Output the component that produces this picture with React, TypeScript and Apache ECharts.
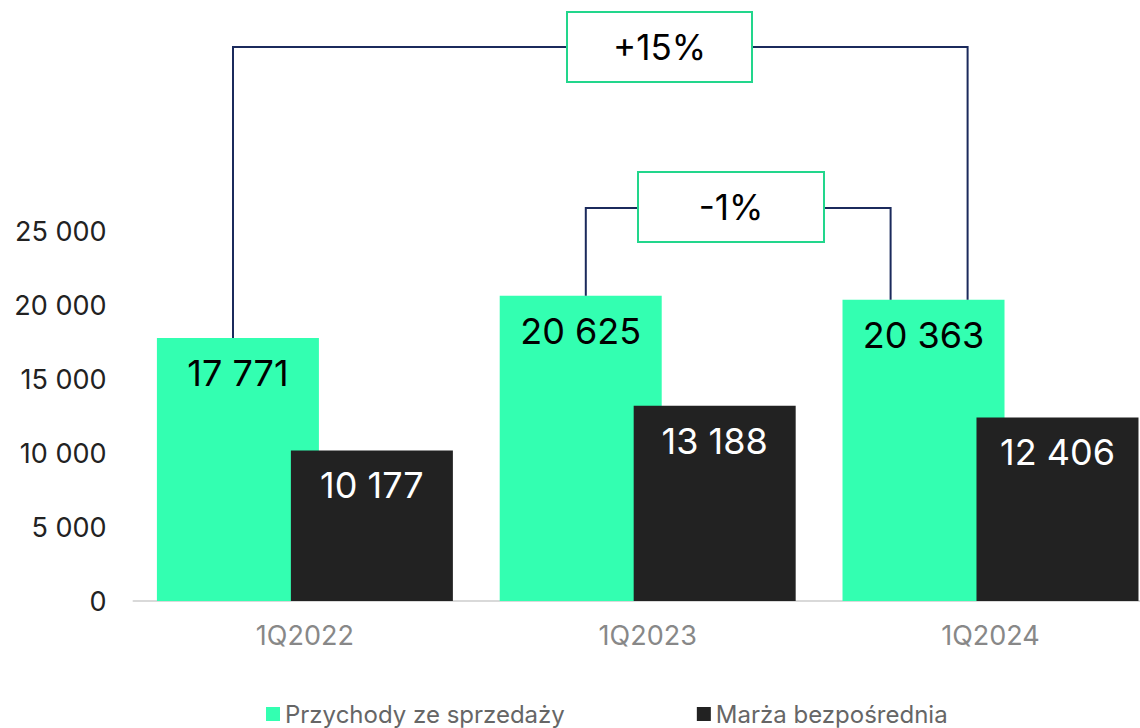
import React, { useEffect, useRef } from "react";
import * as echarts from "echarts";

const categories = ["1Q2022", "1Q2023", "1Q2024"];
const revenue = [17771, 20625, 20363];
const margin = [10177, 13188, 12406];
const seriesNames = ["Przychody ze sprzedaży", "Marża bezpośrednia"];
const changeLabels = ["+15%", "-1%"];
const changeFrom = [0, 1];
const changeTo = [2, 2];

const GREEN = "#33FFB1";
const DARK = "#222222";
const NAVY = "#1B2A5C";
const BOX = "#22D68C";
const FONT = "Inter, 'Noto Sans', sans-serif";

const fmt = (v: number) => String(v).replace(/\B(?=(\d{3})+(?!\d))/g, " ");

export default function App() {
  const ref = useRef<HTMLDivElement>(null);
  useEffect(() => {
    const chart = echarts.init(ref.current!, undefined, { renderer: "svg" });
    chart.setOption({
      animation: false,
      textStyle: { fontFamily: FONT },
      grid: { left: 133.5, width: 1028.4, top: 231, height: 370, outerBoundsMode: "none" },
      legend: {
        bottom: -3,
        left: 261,
        icon: "rect",
        itemWidth: 14,
        itemHeight: 14,
        itemGap: 132,
        textStyle: { fontSize: 24, color: "#666666", fontFamily: FONT },
        data: seriesNames,
      },
      xAxis: {
        type: "category",
        data: categories,
        axisLine: { lineStyle: { color: "#D9D9D9", width: 2 } },
        axisTick: { show: false },
        axisLabel: { fontSize: 27, color: "#888888", margin: 21, fontFamily: FONT },
      },
      yAxis: {
        type: "value",
        min: 0,
        max: 25000,
        interval: 5000,
        splitLine: { show: false },
        axisLabel: { fontSize: 27, color: "#222222", margin: 27, formatter: (v: number) => fmt(v), fontFamily: FONT },
      },
      series: [
        {
          name: seriesNames[0],
          type: "bar",
          data: revenue,
          barWidth: 162,
          barGap: "-17.3%",
          itemStyle: { color: GREEN },
          label: {
            show: true,
            position: "insideTop",
            distance: 17,
            fontSize: 36,
            color: "#000000",
            fontFamily: FONT,
            formatter: (p: any) => fmt(p.value),
          },
        },
        {
          name: seriesNames[1],
          type: "bar",
          data: margin,
          barWidth: 162,
          itemStyle: { color: DARK },
          label: {
            show: true,
            position: "insideTop",
            distance: 17,
            fontSize: 36,
            color: "#FFFFFF",
            fontFamily: FONT,
            formatter: (p: any) => fmt(p.value),
          },
        },
      ],
    });

    const px = (ci: number, v: number) =>
      chart.convertToPixel({ xAxisIndex: 0, yAxisIndex: 0 }, [ci, v]) as number[];
    const half = 66.9; // green bar center offset from category center
    const specs = [
      { lx: -5, rx: 44, topY: 47, boxX: 567, boxW: 185, boxY: 12, boxH: 70 },
      { lx: 5, rx: -33, topY: 208, boxX: 638, boxW: 186, boxY: 172, boxH: 70 },
    ];
    const graphic: any[] = [];
    specs.forEach((s, i) => {
      const a = px(changeFrom[i], revenue[changeFrom[i]]);
      const b = px(changeTo[i], revenue[changeTo[i]]);
      const x1 = a[0] - half + s.lx;
      const x2 = b[0] - half + s.rx;
      graphic.push({
        type: "polyline",
        z: 100,
        shape: { points: [[x1, a[1]], [x1, s.topY], [x2, s.topY], [x2, b[1]]] },
        style: { stroke: NAVY, lineWidth: 2, fill: null },
      });
      graphic.push({
        type: "rect",
        z: 101,
        shape: { x: s.boxX, y: s.boxY, width: s.boxW, height: s.boxH },
        style: { fill: "#FFFFFF", stroke: BOX, lineWidth: 2 },
      });
      graphic.push({
        type: "text",
        z: 102,
        x: s.boxX + s.boxW / 2,
        y: s.boxY + s.boxH / 2,
        style: {
          text: changeLabels[i],
          fontSize: 35,
          fontFamily: FONT,
          fill: "#000000",
          align: "center",
          verticalAlign: "middle",
        },
      });
    });
    chart.setOption({ graphic });
    return () => chart.dispose();
  }, []);
  return (
    <div
      style={{ position: "fixed", left: 0, top: 0, width: 1140, height: 728, overflow: "hidden", background: "#FFFFFF" }}
    >
      <div ref={ref} style={{ width: 1164, height: 728 }} />
    </div>
  );
}
